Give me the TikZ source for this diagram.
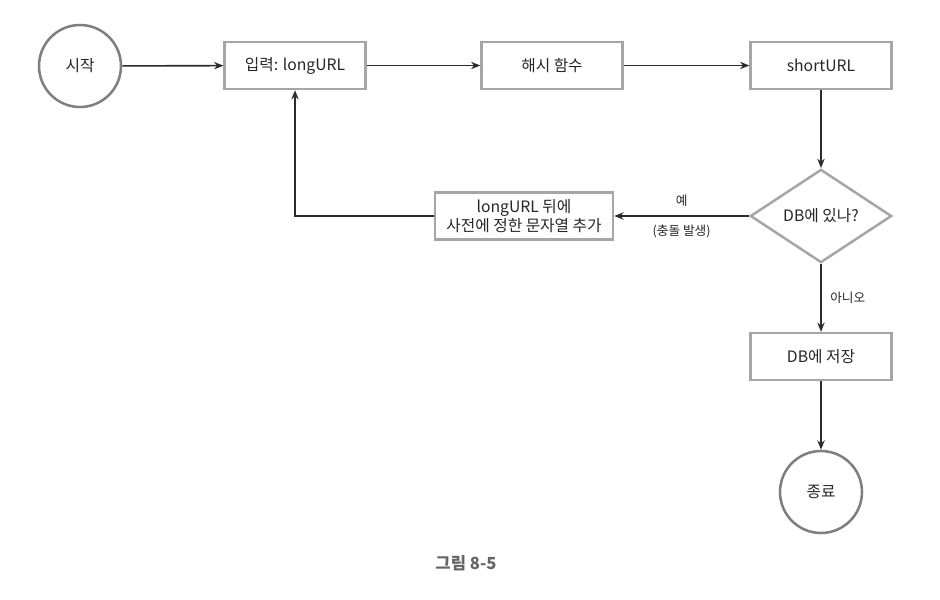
\documentclass[tikz,border=0pt]{standalone}
\usepackage{fontspec}
\setmainfont{Noto Sans CJK KR}
\usetikzlibrary{arrows.meta,shapes.geometric}
\definecolor{boxgray}{HTML}{A6A6A6}
\definecolor{circgray}{HTML}{7F7F7F}
\definecolor{arrowc}{HTML}{2B2B2B}
\definecolor{capgray}{HTML}{666666}
\begin{document}
\begin{tikzpicture}[x=0.75pt,y=-0.75pt,
  procbox/.style={draw=boxgray,line width=1.9pt,minimum width=105.5pt,minimum height=35pt,inner sep=0pt,font=\fontsize{11.8}{14}\selectfont,align=center,text=black!85},
  termc/.style={circle,draw=circgray,line width=1.9pt,minimum size=61.5pt,inner sep=0pt,font=\fontsize{11.8}{14}\selectfont,text=black!85},
  decis/.style={diamond,draw=boxgray,line width=1.9pt,minimum width=106pt,minimum height=70pt,aspect=1.5,inner sep=0pt,font=\fontsize{11.8}{14}\selectfont,text=black!85},
  conn/.style={draw=arrowc,line width=1.2pt,-{Stealth[length=7pt,width=5.5pt]}},
  lbl/.style={font=\fontsize{9.5}{11.5}\selectfont,text=black!85}]
\useasboundingbox (0,0) rectangle (940,600);
\node[termc] (start) at (80,66) {시작};
\node[procbox] (input) at (295,65.5) {입력: longURL};
\node[procbox] (hash) at (552,65.5) {해시 함수};
\node[procbox] (short) at (821,65.5) {shortURL};
\node[decis] (db) at (821,216) {DB에 있나?};
\node[procbox,minimum width=133.5pt] (append) at (524,216) {longURL 뒤에\\사전에 정한 문자열 추가};
\node[procbox] (save) at (821,356.5) {DB에 저장};
\node[termc] (end) at (821,492) {종료};
\node[font=\bfseries\fontsize{12.5}{15}\selectfont,text=capgray] (cap) at (466,563) {그림 8-5};
\draw[conn] (start) -- (input);
\draw[conn] (input) -- (hash);
\draw[conn] (hash) -- (short);
\draw[conn] (short) -- (db);
\draw[conn] (db) -- (append)
  node[lbl,midway,above=3pt] (yes) {예}
  node[lbl,midway,below=3pt] (coll) {(충돌 발생)};
\draw[conn] (append.west) -| (input.south);
\draw[conn] (db) -- (save) node[lbl,midway,right=3pt] (no) {아니오};
\draw[conn] (save) -- (end);
\end{tikzpicture}
\end{document}
